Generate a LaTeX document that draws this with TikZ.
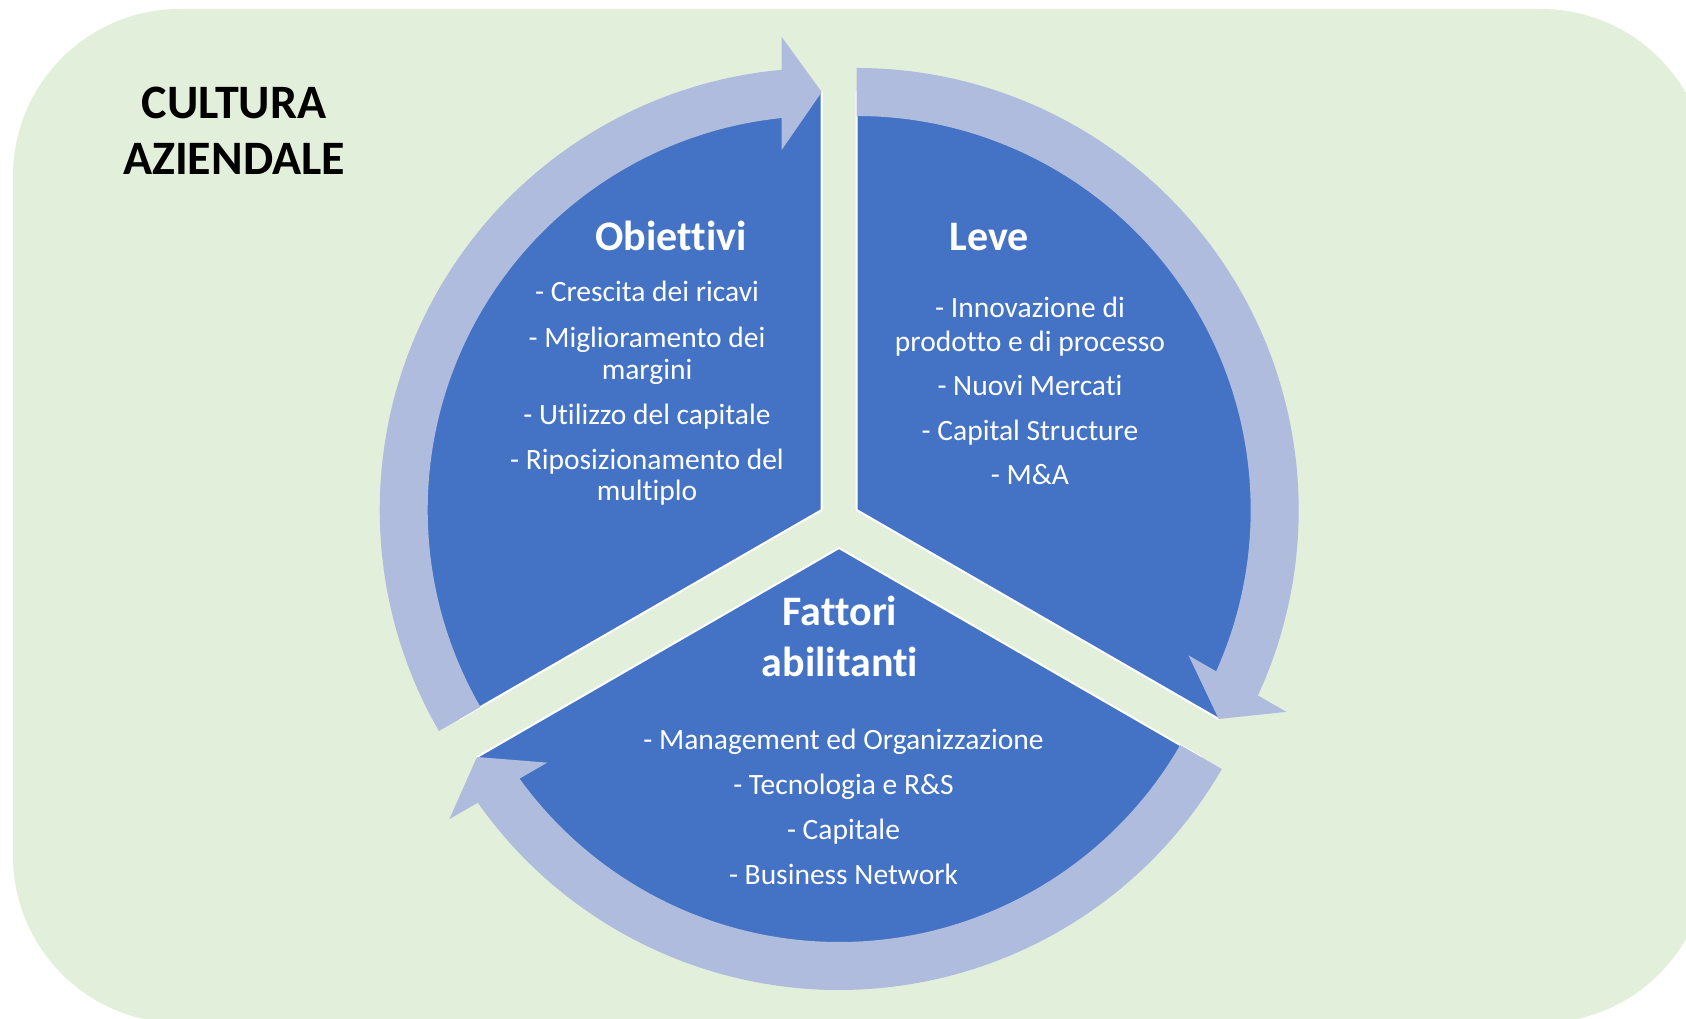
\documentclass[tikz,border=0pt]{standalone}
\usepackage{fontspec}
\setmainfont{Carlito}[Ligatures=CommonOff]
\definecolor{bggreen}{RGB}{226,239,218}
\definecolor{segblue}{RGB}{68,114,196}
\definecolor{bandblue}{RGB}{175,188,222}
\newcommand\cycleslice{\path[seg] (0,0) -- (90:418) arc[start angle=90, end angle=210, radius=418] -- cycle;}
\newcommand\cyclearrow{\path[ringarrow] (210:394) arc[start angle=210, end angle=95.83, radius=394]
  -- (-40,360) -- (0,418) -- (-40,473)
  -- (95.19:442) arc[start angle=95.19, end angle=210, radius=442] -- cycle;}
\begin{document}
\begin{tikzpicture}[x=1pt,y=1pt,
  seg/.style={fill=segblue, draw=white, line width=2pt, line join=bevel},
  ringarrow/.style={fill=bandblue},
  body/.style={text=white, font=\fontsize{29.5}{32}\selectfont, anchor=base, inner sep=0pt},
  ttl/.style={text=white, font=\fontsize{42}{50}\selectfont\bfseries, anchor=base, inner sep=0pt},
  culture/.style={text=black, font=\fontsize{48}{56}\selectfont\bfseries, anchor=base, inner sep=0pt}]
\useasboundingbox (0,0) rectangle (1686,1019);
\clip (0,0) rectangle (1686,1019);
\fill[bggreen, rounded corners=167pt] (13,-4) rectangle (1708,1010);

% centres of the three exploded units
\coordinate (cO) at (821.7,509);
\coordinate (cL) at (856.7,509);
\coordinate (cF) at (839,471);

% segments
\begin{scope}[shift={(cO)}]\cycleslice\end{scope}
\begin{scope}[shift={(cL)}, rotate=-120]\cycleslice\end{scope}
\begin{scope}[shift={(cF)}, rotate=120]\cycleslice\end{scope}

% circular arrows
\begin{scope}[shift={(cO)}]\cyclearrow\end{scope}
\begin{scope}[shift={(cL)}, rotate=-120]\cyclearrow\end{scope}
\begin{scope}[shift={(cF)}, rotate=120]\cyclearrow\end{scope}

% title
\node[culture] (c1) at (234,900) {CULTURA};
\node[culture] (c2) at (234,844) {AZIENDALE};

% Obiettivi
\node[ttl] (ot) at (671,768) {Obiettivi};
\node[body] (o1) at (647,717.1) {- Crescita dei ricavi};
\node[body] (o2) at (647,671.9) {- Miglioramento dei};
\node[body] (o3) at (647,639.7) {margini};
\node[body] (o4) at (647,594.5) {- Utilizzo del capitale};
\node[body] (o5) at (647,549.5) {- Riposizionamento del};
\node[body] (o6) at (647,518.5) {multiplo};

% Leve
\node[ttl] (lt) at (989,768) {Leve};
\node[body] (l1) at (1030,701) {- Innovazione di};
\node[body] (l2) at (1030,667.5) {prodotto e di processo};
\node[body] (l3) at (1030,623.5) {- Nuovi Mercati};
\node[body] (l4) at (1030,578.5) {- Capital Structure};
\node[body] (l5) at (1030,534.5) {- M\&A};

% Fattori abilitanti
\node[ttl] (ft1) at (840,393.5) {Fattori};
\node[ttl] (ft2) at (840,342) {abilitanti};
\node[body] (f1) at (843.5,269.8) {- Management ed Organizzazione};
\node[body] (f2) at (843.5,224.5) {- Tecnologia e R\&S};
\node[body] (f3) at (843.5,179.5) {- Capitale};
\node[body] (f4) at (843.5,134.5) {- Business Network};
\end{tikzpicture}
\end{document}
